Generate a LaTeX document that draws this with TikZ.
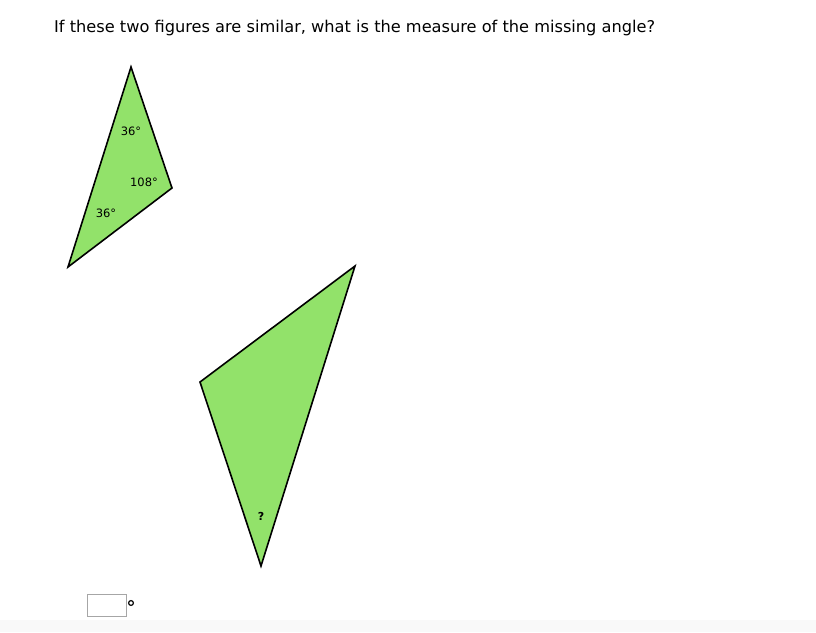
\documentclass[tikz,border=0pt]{standalone}
\usepackage{fontspec}
\setmainfont{DejaVu Sans}
\definecolor{trifill}{RGB}{146,226,106}
\begin{document}
\begin{tikzpicture}[x=1pt,y=-1pt,
  tri/.style={draw=black,line width=1.6pt,fill=trifill,line join=miter},
  lbl/.style={inner sep=0pt,font=\fontsize{11.5}{13}\selectfont},
  title/.style={anchor=west,inner sep=0pt,font=\fontsize{16.2}{19}\selectfont}]
\useasboundingbox (0,0) rectangle (816,632);
\fill[gray!5] (0,620) rectangle (816,632);
\node[title] (q) at (54,28) {If these two figures are similar, what is the measure of the missing angle?};
\coordinate (a1) at (131,67);
\coordinate (a2) at (172,188);
\coordinate (a3) at (68,267);
\draw[tri] (a1) -- (a2) -- (a3) -- cycle;
\node[lbl] (l1) at (131,131) {36°};
\node[lbl] (l2) at (144,182) {108°};
\node[lbl] (l3) at (106,213) {36°};
\coordinate (b1) at (355,266);
\coordinate (b2) at (200,382);
\coordinate (b3) at (261,566);
\draw[tri] (b1) -- (b2) -- (b3) -- cycle;
\node[lbl,font=\fontsize{11}{12}\selectfont\bfseries] (l4) at (261,516) {?};
\node[draw=gray!70,line width=0.8pt,minimum width=39pt,minimum height=22pt,inner sep=0pt] (box) at (106.5,605) {};
\draw[line width=1.2pt] (131,603) circle (2.4);
\end{tikzpicture}
\end{document}
